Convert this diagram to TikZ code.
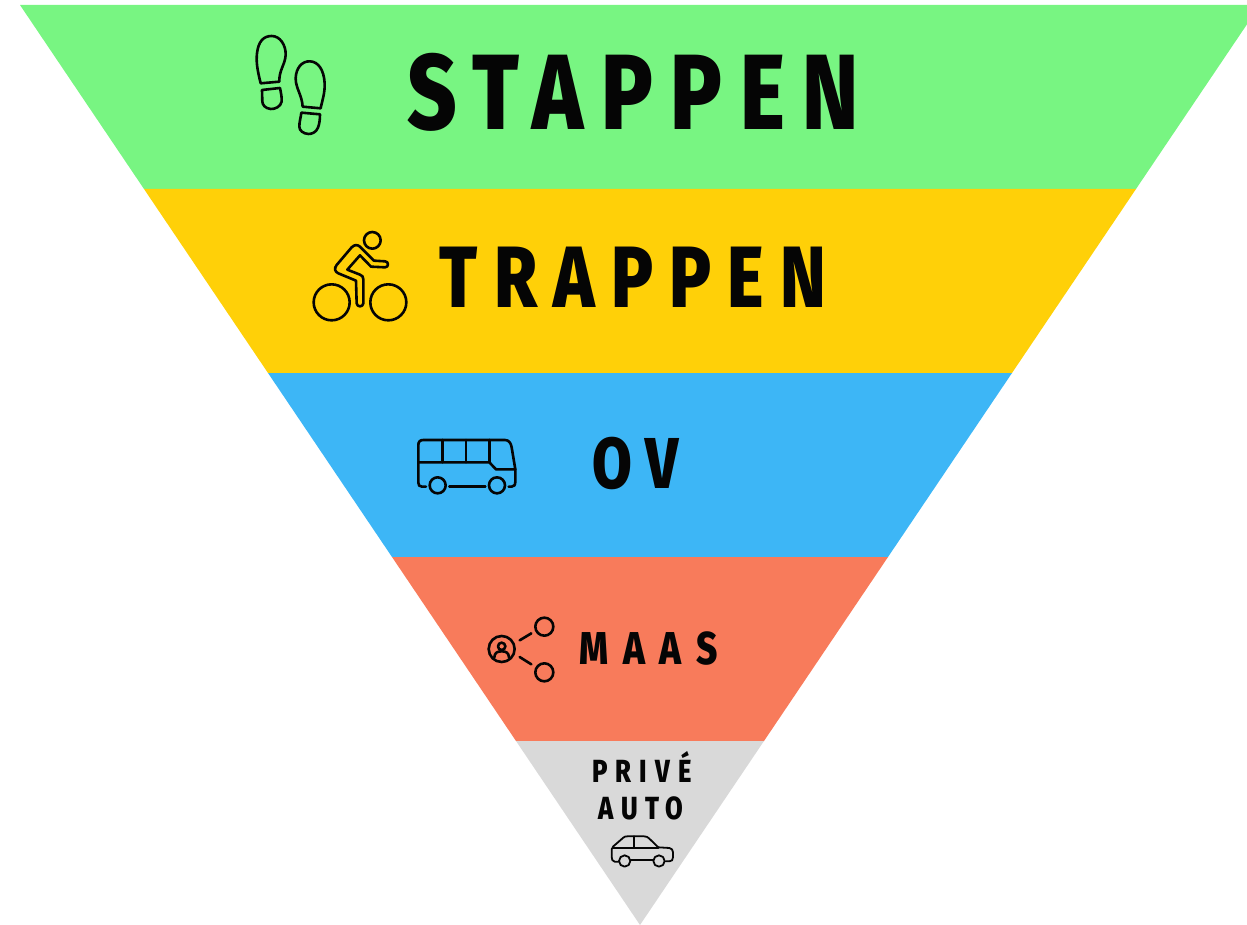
\documentclass[tikz,border=0pt]{standalone}
\usepackage{fontspec}
\newfontfamily\lblfont[FakeStretch=0.8]{Fira Sans ExtraBold}
\newcommand{\lblset}[2]{\lblfont\addfontfeature{LetterSpace=#2}\fontsize{#1}{#1}\selectfont}
\definecolor{cgreen}{HTML}{78F582}
\definecolor{cyellow}{HTML}{FFD008}
\definecolor{cblue}{HTML}{3DB6F6}
\definecolor{corange}{HTML}{F87B5B}
\definecolor{cgrey}{HTML}{D9D9D9}
\definecolor{cink}{HTML}{050505}
\tikzset{
  band/.style={draw=none},
  icon/.style={draw=cink,line width=2.6pt,line cap=round,line join=round},
  smallicon/.style={draw=cink,line width=1.8pt,line cap=round,line join=round},
  title/.style={inner sep=0pt,outer sep=0pt,anchor=base,text=cink},
}
\begin{document}
\begin{tikzpicture}[x=1pt,y=-1pt]
\useasboundingbox (0,0) rectangle (1247,925);
\clip (0,0) rectangle (1247,925);
\fill[cgreen,band] (20,5) -- (1260,5) -- (1136,189) -- (144,189) -- cycle;
\fill[cyellow,band] (144,189) -- (1136,189) -- (1012,373) -- (268,373) -- cycle;
\fill[cblue,band] (268,373) -- (1012,373) -- (888,557) -- (392,557) -- cycle;
\fill[corange,band] (392,557) -- (888,557) -- (764,741) -- (516,741) -- cycle;
\fill[cgrey,band] (516,741) -- (764,741) -- (640,925) -- cycle;

\node[title,font=\lblset{107}{16.4}] (stappen) at (633,130) {STAPPEN};
\node[title,font=\lblset{87}{18.6}] (trappen) at (633,308) {TRAPPEN};
\node[title,font=\lblset{72}{19}] (ov) at (636,488) {OV};
\node[title,font=\lblset{46}{31.5}] (maas) at (648.5,664) {MAAS};
\node[title,font=\lblset{32}{25}] (prive) at (642,782) {PRIVÉ};
\node[title,font=\lblset{32}{23}] (auto) at (641,819) {AUTO};

% shoes
\begin{scope}[shift={(230,20)},x=0.3333pt,y=-0.3333pt]
\draw[icon] (92,190) .. controls (82,150) and (78,125) .. (81,100) .. controls (85,65) and (100,48) .. (125,48) .. controls (150,48) and (168,75) .. (167,105) .. controls (165,135) and (147,150) .. (148,185) -- cycle;
\draw[icon] (96,210) -- (150,204) .. controls (153,220) and (156,232) .. (155,245) .. controls (152,260) and (135,268) .. (122,267) .. controls (105,265) and (98,255) .. (97,245) -- cycle;
\draw[icon] (218,260) .. controls (216,225) and (197,205) .. (197,175) .. controls (198,145) and (215,123) .. (240,124) .. controls (265,125) and (282,150) .. (284,190) .. controls (285,220) and (277,240) .. (272,265) -- cycle;
\draw[icon] (214,278) -- (270,283) .. controls (270,300) and (268,312) .. (264,323) .. controls (258,338) and (245,342) .. (235,342) .. controls (220,341) and (208,332) .. (208,320) .. controls (208,305) and (212,295) .. (214,278) -- cycle;
\end{scope}

% cyclist
\begin{scope}[shift={(300,220)},x=0.3333pt,y=-0.3333pt]
\draw[icon] (217,61) circle[radius=25];
\draw[icon] (95,247) circle[radius=54];
\draw[icon] (265,247) circle[radius=54];
\draw[icon] (180,106) -- (213,140) -- (255,142) .. controls (267,142) and (267,124) .. (255,124) -- (222,122) -- (180,80) .. controls (172,73) and (163,74) .. (155,82) -- (110,135) .. controls (102,145) and (104,155) .. (115,160) -- (168,182) -- (170,250) .. controls (171,262) and (189,262) .. (190,250) -- (190,178) .. controls (190,170) and (187,167) .. (180,164) -- (142,149) -- cycle;
\end{scope}

% bus
\begin{scope}[shift={(410,430)},x=0.3333pt,y=-0.3333pt]
\draw[icon] (48,170) -- (36,170) .. controls (28,170) and (25,165) .. (25,158) -- (25,45) .. controls (25,35) and (30,30) .. (40,30) -- (285,30) .. controls (297,30) and (303,40) .. (305,52) -- (316,118) -- (316,155) .. controls (316,165) and (312,170) .. (305,170) -- (296,170);
\draw[icon] (118,170) -- (226,170);
\draw[icon] (25,97) -- (238,97) -- (258,118) -- (316,118);
\draw[icon] (97,30) -- (97,97);
\draw[icon] (168,30) -- (168,97);
\draw[icon] (238,30) -- (238,97);
\draw[icon] (83,166) circle[radius=24];
\draw[icon] (261,166) circle[radius=24];
\end{scope}

% MaaS network
\begin{scope}[shift={(480,610)},x=0.3333pt,y=-0.3333pt]
\draw[icon] (65,117) circle[radius=39];
\draw[icon] (65,109) circle[radius=11];
\draw[icon] (43,142) .. controls (44,128) and (52,124) .. (65,124) .. controls (78,124) and (86,128) .. (87,142);
\draw[icon] (193,50) circle[radius=27];
\draw[icon] (193,187) circle[radius=27];
\draw[icon] (119,91) -- (154,70);
\draw[icon] (119,141) -- (154,163);
\end{scope}

% car
\begin{scope}[shift={(580,750)},x=0.3333pt,y=-0.3333pt]
\draw[smallicon] (116,335) -- (104,335) .. controls (97,334) and (95,328) .. (95,320) -- (95,298) .. controls (95,294) and (97,291) .. (100,289) -- (130,263) .. controls (133,260) and (137,259) .. (142,259) -- (192,259) .. controls (198,259) and (203,261) .. (207,265) -- (235,292) -- (268,294) .. controls (275,295) and (279,300) .. (279,307) -- (279,322) .. controls (279,330) and (275,334) .. (268,334) -- (257,334);
\draw[smallicon] (100,293) -- (235,293);
\draw[smallicon] (161,259) -- (161,293);
\draw[smallicon] (152,331) -- (218,331);
\draw[smallicon] (134,333) circle[radius=17];
\draw[smallicon] (237,333) circle[radius=17];
\end{scope}
\end{tikzpicture}
\end{document}
